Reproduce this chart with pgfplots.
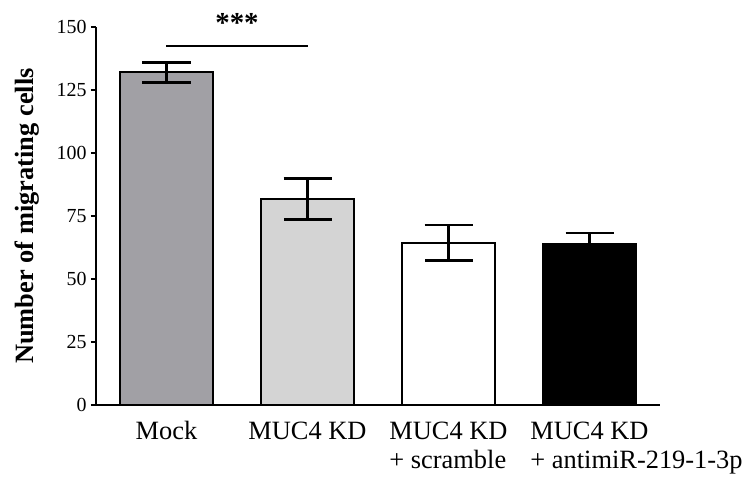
\documentclass[border=0pt]{standalone}
\usepackage{fontspec}
\setmainfont{Liberation Serif}
\usepackage{pgfplots}
\pgfplotsset{compat=1.18}
\definecolor{mockgray}{RGB}{161,160,165}
\definecolor{kdgray}{RGB}{212,212,212}
\begin{document}
\begin{tikzpicture}
\begin{axis}[name=ax,
  width=564bp, height=378bp, scale only axis,
  xmin=-0.5, xmax=3.5, ymin=0, ymax=150,
  enlargelimits=false, clip=false,
  axis x line=bottom, axis y line=left,
  axis line style={line width=2bp, -},
  ytick={0,25,50,75,100,125,150},
  xtick={0,1,2,3},
  xticklabels={Mock, MUC4 KD, {MUC4 KD\\\rlap{+ scramble}\phantom{MUC4 KD}}, {MUC4 KD\\\rlap{+ antimiR-219-1-3p}\phantom{MUC4 KD}}},
  x tick style={draw=none},
  y tick style={line width=2bp, black},
  tick align=outside, major tick length=5bp,
  /pgf/number format/assume math mode=true,
  yticklabel style={font=\fontsize{20}{20}\selectfont, xshift=-1bp},
  xticklabel style={font=\fontsize{26.5}{30}\selectfont, align=center, anchor=north, yshift=-8bp},
  ylabel={\textbf{Number of migrating cells}},
  ylabel style={font=\fontsize{26.5}{26.5}\selectfont},
  ylabel shift=10bp,
]
\addplot[ybar, bar width=93bp, bar shift=0pt, fill=mockgray, draw=black, line width=2bp,
  error bars/.cd, y dir=both, y explicit,
  error bar style={line width=2.5bp, black},
  error mark options={rotate=90, mark size=24bp, line width=2.5bp, black}]
  coordinates {(0,132.0) +- (0,4.0)};
\addplot[ybar, bar width=93bp, bar shift=0pt, fill=kdgray, draw=black, line width=2bp,
  error bars/.cd, y dir=both, y explicit,
  error bar style={line width=2.5bp, black},
  error mark options={rotate=90, mark size=24bp, line width=2.5bp, black}]
  coordinates {(1,81.8) +- (0,8.1)};
\addplot[ybar, bar width=93bp, bar shift=0pt, fill=white, draw=black, line width=2bp,
  error bars/.cd, y dir=both, y explicit,
  error bar style={line width=2.5bp, black},
  error mark options={rotate=90, mark size=24bp, line width=2.5bp, black}]
  coordinates {(2,64.4) +- (0,7.1)};
\addplot[ybar, bar width=93bp, bar shift=0pt, fill=black, draw=black, line width=2bp,
  error bars/.cd, y dir=both, y explicit,
  error bar style={line width=2.5bp, black},
  error mark options={rotate=90, mark size=24bp, line width=2.5bp, black}]
  coordinates {(3,64.0) +- (0,4.2)};
\draw[line width=2bp] (axis cs:0,142.6) -- (axis cs:1,142.6);
\node[font=\fontsize{29}{29}\selectfont\bfseries, inner sep=0pt] at (axis cs:0.5,151.5) {***};
\end{axis}
\pgfresetboundingbox
\path ([shift={(-96bp,-74bp)}]ax.south west) rectangle ([shift={(651bp,405bp)}]ax.south west);
\end{tikzpicture}
\end{document}
